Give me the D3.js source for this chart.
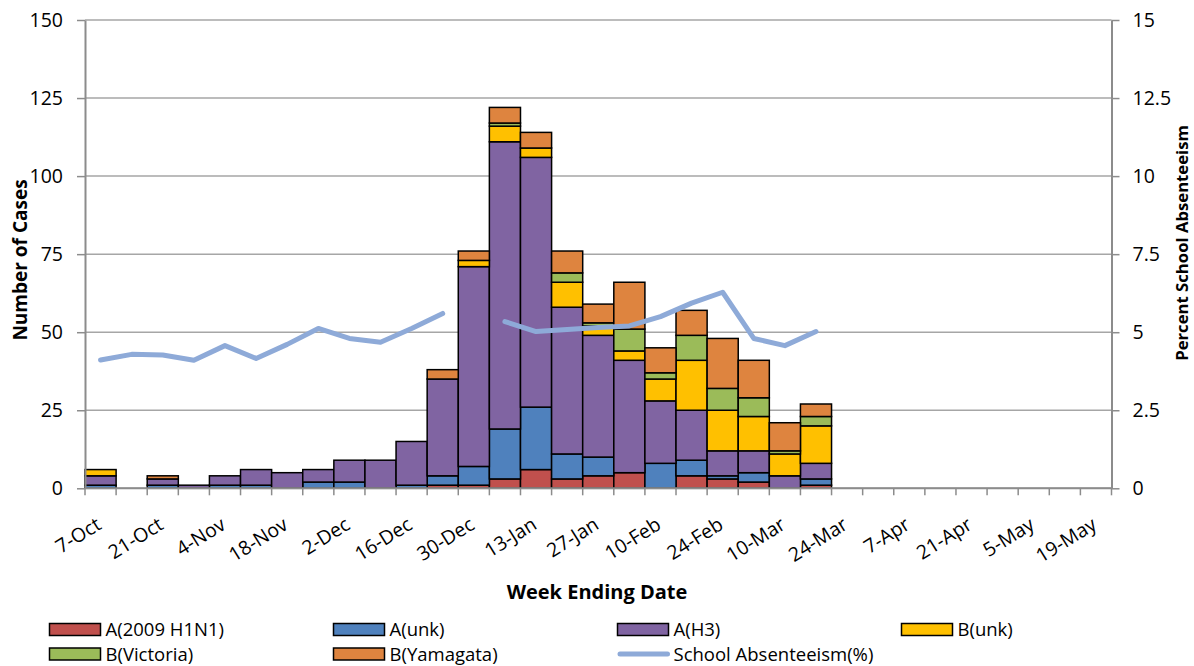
<!DOCTYPE html>
<html>
<head>
<meta charset="utf-8">
<script src="https://cdn.jsdelivr.net/npm/d3@7"></script>
<style>
  body { margin: 0; background: #fff; }
  svg { font-family: "Open Sans", sans-serif; }
</style>
</head>
<body>
<svg width="1194" height="666"></svg>
<script>
// week ending dates
const weeks = ["7-Oct", "14-Oct", "21-Oct", "28-Oct", "4-Nov", "11-Nov", "18-Nov", "25-Nov",
	"2-Dec", "9-Dec", "16-Dec", "23-Dec", "30-Dec", "6-Jan", "13-Jan", "20-Jan", "27-Jan",
	"3-Feb", "10-Feb", "17-Feb", "24-Feb", "3-Mar", "10-Mar", "17-Mar", "24-Mar", "31-Mar",
	"7-Apr", "14-Apr", "21-Apr", "28-Apr", "5-May", "12-May", "19-May"];

const seriesNames = ["A(2009 H1N1)", "A(unk)", "A(H3)", "B(unk)", "B(Victoria)", "B(Yamagata)"];
const seriesColors = ["#c0504d", "#4f81bd", "#8064a2", "#ffc000", "#9bbb59", "#de843f"];

const h1n1 =      [0,0,0,0,0,0,0,0,0,0,0, 1, 1, 3, 6, 3, 4, 5,0, 4, 3,2,0,1,0,0,0,0,0,0,0,0,0];
const aUnk =      [1,0,1,0,1,1,0,2,2,0,1, 3, 6,16,20, 8, 6, 0,8, 5, 1,3,0,2,0,0,0,0,0,0,0,0,0];
const aH3 =       [3,0,2,1,3,5,5,4,7,9,14,31,64,92,80,47,39,36,20,16,8,7,4,5,0,0,0,0,0,0,0,0,0];
const bUnk =      [2,0,0,0,0,0,0,0,0,0,0, 0, 2, 5, 3, 8, 3, 3,7,16,13,11,7,12,0,0,0,0,0,0,0,0,0];
const bVictoria = [0,0,0,0,0,0,0,0,0,0,0, 0, 0, 1, 0, 3, 1, 7,2, 8, 7,6,1,3,0,0,0,0,0,0,0,0,0];
const bYamagata = [0,0,1,0,0,0,0,0,0,0,0, 3, 3, 5, 5, 7, 6,15,8, 8,16,12,9,4,0,0,0,0,0,0,0,0,0];

// percent school absenteeism (null = no report)
const absenteeism = [4.11, 4.29, 4.27, 4.1, 4.57, 4.16, 4.61, 5.12, 4.8, 4.68, 5.12, 5.6, null,
	5.34, 5.02, 5.09, 5.15, 5.2, 5.5, 5.93, 6.28, 4.8, 4.57, 5.02,
	null, null, null, null, null, null, null, null, null];

const leftTicks = [0, 25, 50, 75, 100, 125, 150];
const rightTicks = [0, 2.5, 5, 7.5, 10, 12.5, 15];

const svg = d3.select("svg");
const plotLeft = 85, plotRight = 1111.5, plotTop = 20, plotBottom = 488.3;

const rows = weeks.map((w, i) => ({
	week: w,
	"A(2009 H1N1)": h1n1[i],
	"A(unk)": aUnk[i],
	"A(H3)": aH3[i],
	"B(unk)": bUnk[i],
	"B(Victoria)": bVictoria[i],
	"B(Yamagata)": bYamagata[i]
}));

const x = d3.scaleBand().domain(weeks).range([plotLeft, plotRight]).padding(0);
const y = d3.scaleLinear().domain([0, 150]).range([plotBottom, plotTop]);
const y2 = d3.scaleLinear().domain([0, 15]).range([plotBottom, plotTop]);
const color = d3.scaleOrdinal().domain(seriesNames).range(seriesColors);

// gridlines
svg.append("g")
	.selectAll("line")
	.data(leftTicks)
	.join("line")
		.attr("x1", plotLeft).attr("x2", plotRight)
		.attr("y1", d => y(d)).attr("y2", d => y(d))
		.attr("stroke", "#a6a6a6")
		.attr("stroke-width", 1.5);

// stacked bars
const stacked = d3.stack().keys(seriesNames)(rows);
svg.append("g")
	.selectAll("g")
	.data(stacked)
	.join("g")
		.attr("fill", d => color(d.key))
	.selectAll("rect")
	.data(d => d.filter(s => s[1] - s[0] > 0))
	.join("rect")
		.attr("x", d => x(d.data.week))
		.attr("y", d => y(d[1]))
		.attr("width", x.bandwidth())
		.attr("height", d => y(d[0]) - y(d[1]))
		.attr("stroke", "#000")
		.attr("stroke-width", 1.5);

// left axis
const yAxis = svg.append("g")
	.attr("transform", `translate(${plotLeft},0)`)
	.call(d3.axisLeft(y).tickValues(leftTicks).tickSize(8).tickSizeOuter(0).tickPadding(14));
// right axis
const yAxis2 = svg.append("g")
	.attr("transform", `translate(${plotRight},0)`)
	.call(d3.axisRight(y2).tickValues(rightTicks).tickFormat(d => d)
		.tickSize(8).tickSizeOuter(0).tickPadding(13));

[yAxis, yAxis2].forEach(g => {
	g.select(".domain").attr("stroke", "#8c8c8c").attr("stroke-width", 2);
	g.selectAll(".tick line").attr("stroke", "#8c8c8c").attr("stroke-width", 1.5);
	g.selectAll(".tick text").attr("font-size", 19.5).attr("fill", "#000")
		.attr("font-family", "Open Sans, sans-serif");
});

// bottom axis: line, boundary ticks, rotated labels
const xg = svg.append("g");
xg.append("line")
	.attr("x1", plotLeft).attr("x2", plotRight)
	.attr("y1", plotBottom).attr("y2", plotBottom)
	.attr("stroke", "#8c8c8c").attr("stroke-width", 2);
xg.selectAll("line.tk")
	.data(d3.range(weeks.length + 1))
	.join("line")
		.attr("class", "tk")
		.attr("x1", i => plotLeft + i * x.step()).attr("x2", i => plotLeft + i * x.step())
		.attr("y1", plotBottom).attr("y2", plotBottom + 7)
		.attr("stroke", "#8c8c8c").attr("stroke-width", 1.5);
xg.selectAll("text")
	.data(weeks.filter((w, i) => i % 2 === 0))
	.join("text")
		.attr("transform", d => `translate(${x(d) + x.bandwidth() / 2 + 2},528) rotate(-32)`)
		.attr("text-anchor", "end")
		.attr("font-size", 19.5)
		.text(d => d);

// absenteeism line
const line = d3.line()
	.defined(d => d != null)
	.x((d, i) => x(weeks[i]) + x.bandwidth() / 2)
	.y(d => y2(d));
svg.append("path")
	.datum(absenteeism)
	.attr("d", line)
	.attr("fill", "none")
	.attr("stroke", "#8eaad8")
	.attr("stroke-width", 5)
	.attr("stroke-linejoin", "round")
	.attr("stroke-linecap", "round");

// axis titles
svg.append("text")
	.attr("transform", "translate(27,260) rotate(-90)")
	.attr("text-anchor", "middle")
	.attr("font-size", 19).attr("font-weight", "bold")
	.text("Number of Cases");
svg.append("text")
	.attr("transform", "translate(1188,243) rotate(-90)")
	.attr("text-anchor", "middle")
	.attr("font-size", 16.7).attr("font-weight", "bold")
	.text("Percent School Absenteeism");
svg.append("text")
	.attr("x", 597).attr("y", 599)
	.attr("text-anchor", "middle")
	.attr("font-size", 20).attr("font-weight", "bold")
	.text("Week Ending Date");

// legend
const legendItems = seriesNames.map(n => ({name: n, type: "rect"}))
	.concat([{name: "School Absenteeism(%)", type: "line"}]);
const legend = svg.append("g")
	.selectAll("g")
	.data(legendItems)
	.join("g")
		.attr("transform", (d, i) => `translate(${49.5 + (i % 4) * 284},${629.5 + Math.floor(i / 4) * 24.5})`);
legend.filter(d => d.type === "rect").append("rect")
	.attr("x", 0).attr("y", -6).attr("width", 51).attr("height", 12)
	.attr("fill", d => color(d.name))
	.attr("stroke", "#000").attr("stroke-width", 1.5);
legend.filter(d => d.type === "line").append("line")
	.attr("x1", 2.5).attr("x2", 50).attr("y1", 0).attr("y2", 0)
	.attr("stroke", "#8eaad8").attr("stroke-width", 5)
	.attr("stroke-linecap", "round");
legend.append("text")
	.attr("x", 56).attr("y", 0).attr("dy", "0.36em")
	.attr("font-size", 18.5)
	.text(d => d.name);
</script>
</body>
</html>
